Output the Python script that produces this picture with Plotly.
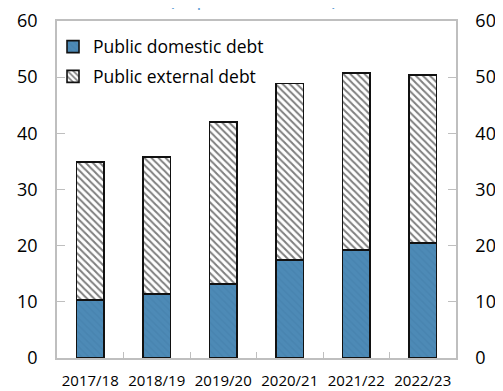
import plotly.graph_objects as go

categories = ["2017/18", "2018/19", "2019/20", "2020/21", "2021/22", "2022/23"]
domestic = [10.3, 11.4, 13.2, 17.4, 19.2, 20.5]
total = [34.9, 35.8, 42.0, 48.9, 50.7, 50.4]
external = [round(t - d, 1) for t, d in zip(total, domestic)]
y_ticks = [0, 10, 20, 30, 40, 50, 60]

FONT = "Open Sans"
AXIS_COLOR = "#bfbfbf"

fig = go.Figure()
fig.add_trace(go.Bar(
    x=categories, y=domestic, name="Public domestic debt",
    marker=dict(color="#4a86b2", line=dict(color="#111111", width=1.6),
                pattern=dict(shape="\\", fgcolor="#437ea9", bgcolor="#4d8ab6",
                             size=5, solidity=0.3)),
    legendgroup="a",
))
fig.add_trace(go.Bar(
    x=categories, y=external, name="Public external debt",
    marker=dict(color="white", line=dict(color="#111111", width=1.6),
                pattern=dict(shape="\\", fgcolor="black", bgcolor="white",
                             size=5, solidity=0.4)),
    legendgroup="b",
))
fig.add_trace(go.Scatter(
    x=categories[:1], y=[0], yaxis="y2", mode="markers",
    marker=dict(opacity=0), showlegend=False, hoverinfo="skip",
))

fig.update_layout(
    width=503, height=391,
    margin=dict(l=49, r=55, t=13, b=41, autoexpand=False),
    paper_bgcolor="white", plot_bgcolor="white",
    barmode="stack", bargap=0.59,
    font=dict(family=FONT, color="#000000"),
    showlegend=True,
    legend=dict(x=-0.01, y=0.977, xanchor="left", yanchor="top",
                font=dict(size=17.5, family=FONT), traceorder="grouped",
                tracegroupgap=4, bgcolor="rgba(0,0,0,0)",
                itemwidth=30),
    xaxis=dict(
        showline=True, linecolor=AXIS_COLOR, linewidth=1.5, mirror=True,
        ticks="inside", ticklen=6, tickcolor=AXIS_COLOR, tickson="boundaries",
        tickfont=dict(size=15, family=FONT), tickangle=0, showgrid=False,
        automargin=False, ticklabelstandoff=8,
    ),
    yaxis=dict(
        range=[0, 60], tickvals=y_ticks, showline=True, linecolor=AXIS_COLOR,
        linewidth=1.5, ticks="inside", ticklen=8, tickcolor=AXIS_COLOR,
        tickfont=dict(size=18, family=FONT), showgrid=False, zeroline=False,
        ticklabelstandoff=14, automargin=False,
    ),
    yaxis2=dict(
        range=[0, 60], tickvals=y_ticks, overlaying="y", side="right",
        showline=True, linecolor=AXIS_COLOR, linewidth=1.5, ticks="inside",
        ticklen=8, tickcolor=AXIS_COLOR, tickfont=dict(size=18, family=FONT),
        showgrid=False, zeroline=False, ticklabelstandoff=14, automargin=False,
    ),
    annotations=[dict(
        text="(In percent of GDP)", xref="paper", yref="paper",
        x=0.49, y=1.066, xanchor="center", yanchor="middle",
        showarrow=False, font=dict(size=19, color="#5b9bd5", family=FONT),
    )],
)

fig.write_html("out.html")
